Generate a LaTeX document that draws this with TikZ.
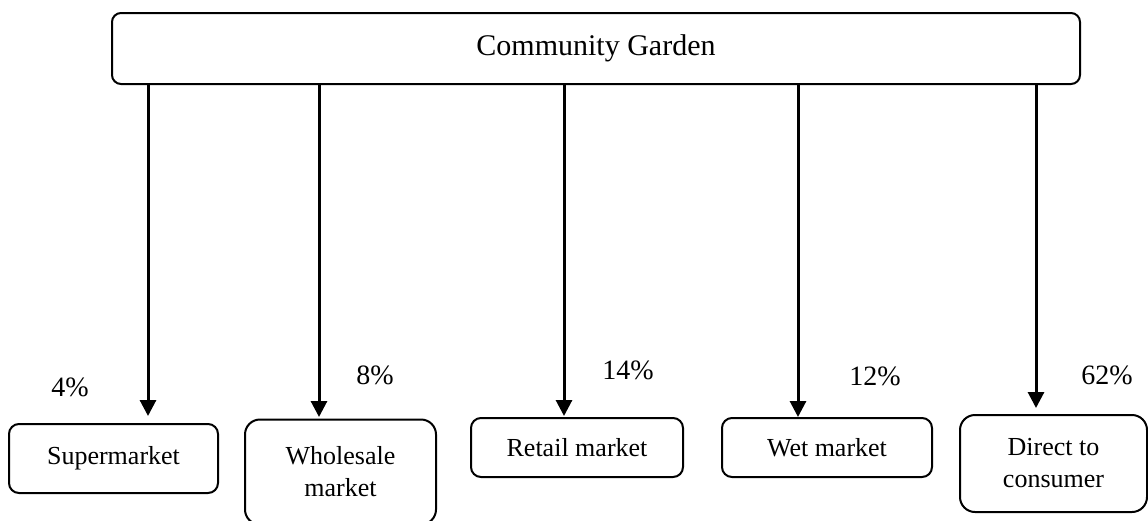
\documentclass[tikz,border=0pt]{standalone}
\usepackage{fontspec}
\setmainfont{Liberation Serif}
\usetikzlibrary{arrows.meta}
\begin{document}
\begin{tikzpicture}[x=1pt,y=-1pt,
  box/.style={draw=black,line width=2pt,rounded corners=10pt,inner sep=0pt,align=center,
    font=\fontsize{26}{32}\selectfont},
  arr/.style={line width=3pt,-{Triangle[width=16pt,length=16pt]}},
  pct/.style={inner sep=0pt,font=\fontsize{28}{32}\selectfont}]
\useasboundingbox (0,0) rectangle (1148,520);
\node[box,rounded corners=9pt,minimum width=968pt,minimum height=71pt,font=\fontsize{30}{32}\selectfont] (top) at (596,48.5) {Community Garden};
\node[box,minimum width=209pt,minimum height=69pt] (sup) at (113.5,458.5) {Supermarket};
\node[box,rounded corners=15pt,minimum width=191pt,minimum height=105pt] (who) at (340.5,472) {Wholesale\\market};
\node[box,minimum width=212pt,minimum height=59pt] (ret) at (577,447.5) {Retail market};
\node[box,minimum width=210pt,minimum height=59pt] (wet) at (827,447.5) {Wet market};
\node[box,rounded corners=15pt,minimum width=187pt,minimum height=97pt] (dir) at (1053.5,463.5) {Direct to\\consumer};
\coordinate (asup) at (148,416);
\coordinate (awho) at (319,417);
\coordinate (aret) at (564,416);
\coordinate (awet) at (798,417);
\coordinate (adir) at (1036,408);
\draw[arr] (top.south -| asup) -- (asup);
\draw[arr] (top.south -| awho) -- (awho);
\draw[arr] (top.south -| aret) -- (aret);
\draw[arr] (top.south -| awet) -- (awet);
\draw[arr] (top.south -| adir) -- (adir);
\node[pct] (p1) at (70,387) {4\%};
\node[pct] (p2) at (375,375) {8\%};
\node[pct] (p3) at (628,370) {14\%};
\node[pct] (p4) at (875,376) {12\%};
\node[pct] (p5) at (1107,375) {62\%};
\end{tikzpicture}
\end{document}
